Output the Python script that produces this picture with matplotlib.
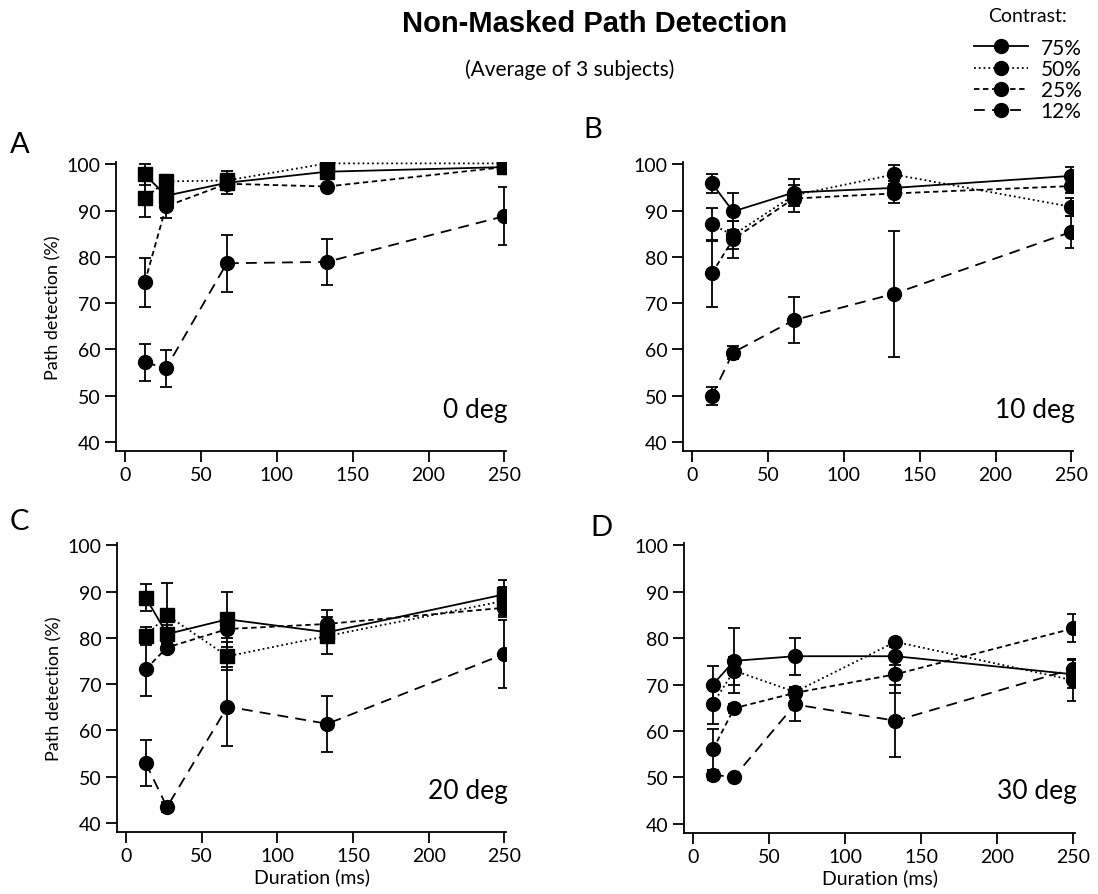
import numpy as np
import matplotlib
matplotlib.use("Agg")
from matplotlib import pyplot as plt
from matplotlib.lines import Line2D

plt.rcParams['font.family'] = ['Lato', 'DejaVu Sans']

# durations (ms)
durations = [13, 27, 67, 133, 250]

# Panel A - 0 deg
a75 = [97.8, 93.2, 96.0, 98.4, 99.4]
a75_err = [2.2, 1.5, 2.5, 1.0, 1.0]
a50 = [92.7, 96.3, 96.5, 100.2, 100.2]
a50_err = [4.0, 1.0, 1.0, 0.5, 0.5]
a25 = [74.5, 90.9, 95.8, 95.2, 99.4]
a25_err = [5.3, 2.5, 1.0, 0.5, 0.5]
a12 = [57.2, 55.9, 78.6, 78.9, 88.8]
a12_err = [4.0, 4.0, 6.2, 5.0, 6.2]

# Panel B - 10 deg
b75 = [95.9, 89.8, 93.9, 94.9, 97.5]
b75_err = [2.0, 4.0, 3.0, 1.5, 2.0]
b50 = [87.0, 84.7, 93.3, 97.8, 90.8]
b50_err = [3.5, 3.0, 1.0, 2.0, 2.0]
b25 = [76.4, 83.8, 92.6, 93.7, 95.3]
b25_err = [7.3, 4.0, 3.0, 2.0, 1.5]
b12 = [49.9, 59.3, 66.3, 72.0, 85.4]
b12_err = [2.0, 1.5, 5.0, 13.6, 3.4]

# Panel C - 20 deg
c75 = [88.7, 80.8, 84.0, 81.2, 89.4]
c75_err = [3.0, 2.0, 6.0, 2.0, 3.0]
c50 = [80.4, 84.9, 76.0, 80.4, 88.0]
c50_err = [2.0, 7.0, 3.0, 4.0, 3.0]
c25 = [73.2, 77.9, 81.9, 83.0, 86.5]
c25_err = [5.7, 1.0, 2.0, 3.0, 2.0]
c12 = [52.9, 43.4, 65.1, 61.4, 76.5]
c12_err = [4.9, 1.0, 8.6, 6.0, 7.4]

# Panel D - 30 deg
d75 = [70.0, 75.1, 76.1, 76.1, 72.2]
d75_err = [4.0, 7.0, 4.0, 2.0, 3.0]
d50 = [65.9, 73.0, 68.4, 79.2, 70.9]
d50_err = [4.5, 3.0, 1.0, 0.5, 4.5]
d25 = [56.0, 64.9, 68.2, 72.2, 82.1]
d25_err = [4.5, 1.0, 1.0, 4.0, 3.0]
d12 = [50.5, 50.1, 65.7, 62.2, 73.4]
d12_err = [1.0, 0.5, 3.5, 7.8, 2.0]

contrast_labels = ["75%", "50%", "25%", "12%"]
styles = ['-', ':', (0, (3, 2)), (0, (6, 4))]

panels = [
    ("A", "0 deg", [a75, a50, a25, a12], [a75_err, a50_err, a25_err, a12_err], ['s', 's', 'o', 'o']),
    ("B", "10 deg", [b75, b50, b25, b12], [b75_err, b50_err, b25_err, b12_err], ['o', 'o', 'o', 'o']),
    ("C", "20 deg", [c75, c50, c25, c12], [c75_err, c50_err, c25_err, c12_err], ['s', 's', 'o', 'o']),
    ("D", "30 deg", [d75, d50, d25, d12], [d75_err, d50_err, d25_err, d12_err], ['o', 'o', 'o', 'o']),
]

# axes rectangles in pixels: left, top, right, bottom
W, H = 1098, 895
rects = [
    (116, 163, 506, 452),
    (683, 163, 1073, 452),
    (117, 544, 506, 833),
    (684, 544, 1075, 834),
]
label_pos = [(10, 145), (583, 130), (10, 522), (590, 528)]

fig = plt.figure(figsize=(W / 100, H / 100), dpi=100)

for i, (letter, deg, series, errs, markers) in enumerate(panels):
    l, t, r, b = rects[i]
    ax = fig.add_axes([l / W, 1 - b / H, (r - l) / W, (b - t) / H])
    for vals, err, ls, mk in zip(series, errs, styles, markers):
        ax.errorbar(durations, vals, yerr=err, color='black', linestyle=ls,
                    linewidth=1.3, marker=mk, markersize=10 if mk == 'o' else 9.5,
                    capsize=4, capthick=1.3, elinewidth=1.3)
    ax.set_xlim(-6, 251)
    ax.set_ylim(38, 100.5)
    ax.set_xticks([0, 50, 100, 150, 200, 250])
    ax.set_yticks([40, 50, 60, 70, 80, 90, 100])
    ax.spines['top'].set_visible(False)
    ax.spines['right'].set_visible(False)
    ax.spines['left'].set_linewidth(1.3)
    ax.spines['bottom'].set_linewidth(1.3)
    ax.tick_params(direction='out', length=8, width=1.3, labelsize=14, pad=3)
    ax.text(1.005, 0.145, deg, transform=ax.transAxes, ha='right', va='center', fontsize=19)
    if i in (0, 2):
        ax.set_ylabel("Path detection (%)", fontsize=13, labelpad=4)
    if i in (2, 3):
        ax.set_xlabel("Duration (ms)", fontsize=14, labelpad=2)
    fig.text(label_pos[i][0] / W, 1 - label_pos[i][1] / H, letter, fontsize=21,
             ha='left', va='center')

fig.text(595 / W, 1 - 24 / H, "Non-Masked Path Detection", fontsize=21,
         fontweight='bold', ha='center', va='center', family=['Liberation Sans', 'DejaVu Sans'])
fig.text(570 / W, 1 - 70 / H, "(Average of 3 subjects)", fontsize=15, ha='center', va='center')

# legend
fig.text(988 / W, 1 - 16 / H, "Contrast:", fontsize=14, ha='left', va='center')
handles = [Line2D([], [], color='black', linestyle=ls, linewidth=1.3, marker='o', markersize=10)
           for ls in styles]
fig.legend(handles, contrast_labels, loc='upper right',
           bbox_to_anchor=(1096 / W, 1 - 24 / H), frameon=False, fontsize=15,
           handlelength=2.6, handletextpad=0.6, labelspacing=0.06, borderpad=0.2)

fig.savefig("out.png", dpi=100)
